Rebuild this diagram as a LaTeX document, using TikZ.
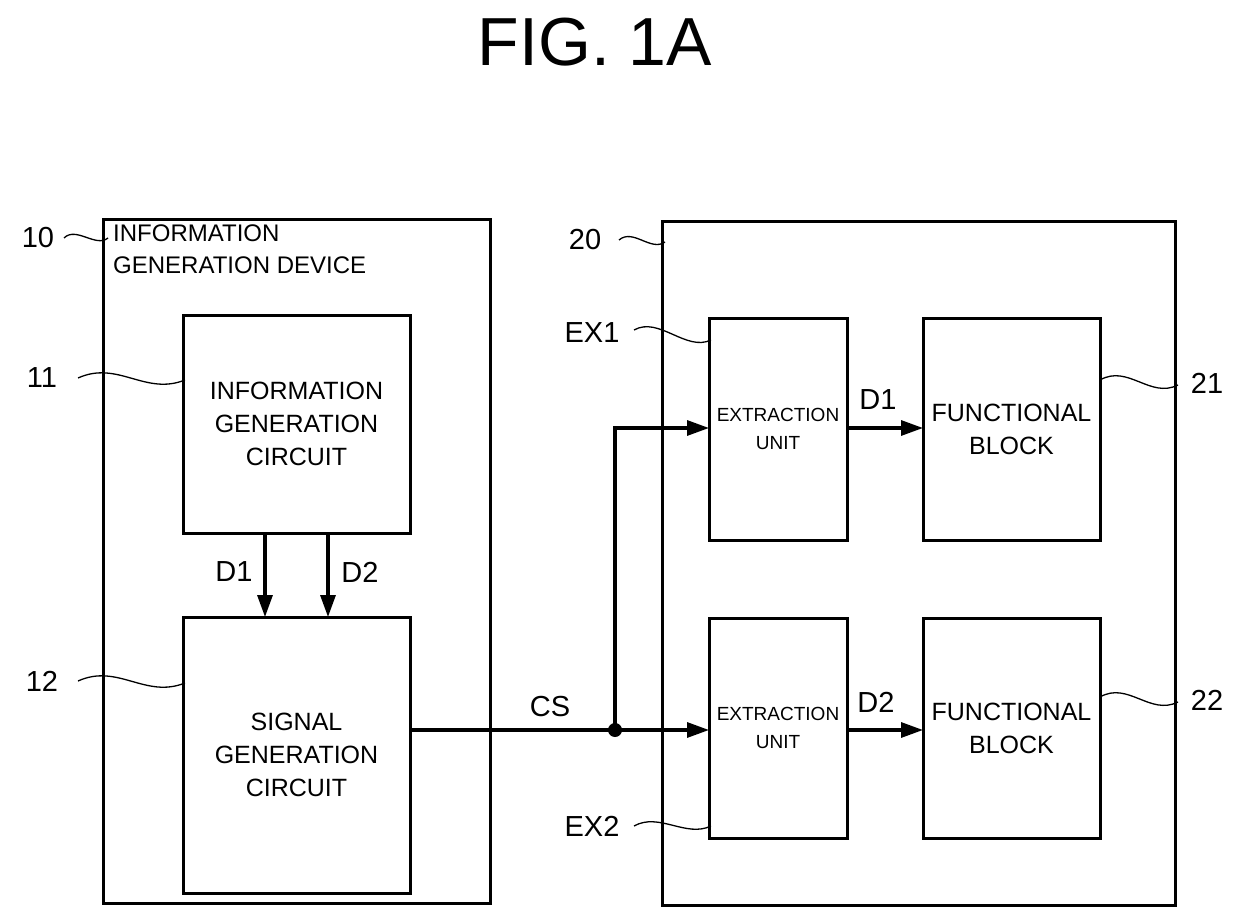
\documentclass[tikz,border=0pt]{standalone}
\usepackage{fontspec}
\setmainfont{Liberation Sans}
\usetikzlibrary{arrows.meta}
\begin{document}
\begin{tikzpicture}[x=1pt,y=-1pt,
  box/.style={draw,line width=3pt,inner sep=0pt},
  txt/.style={align=center,font=\fontsize{25}{33}\selectfont},
  small/.style={align=center,font=\fontsize{19}{28}\selectfont},
  lab/.style={font=\fontsize{29}{32}\selectfont},
  arr/.style={line width=3.2pt,-{Triangle[length=22pt,width=15pt]}},
  sq/.style={line width=1.3pt}]
\useasboundingbox (0,0) rectangle (1240,920);
\node[font=\fontsize{68}{76}\selectfont] (title) at (595,42) {FIG. 1A};
% device 10
\draw[box] (103,220) rectangle (490,903);
\node[anchor=north west,align=left,inner sep=0pt,font=\fontsize{24}{32}\selectfont] (t10) at (113,225) {INFORMATION\\GENERATION DEVICE};
\node[box,minimum width=227pt,minimum height=218pt,txt] (b11) at (296.5,424) {INFORMATION\\GENERATION\\CIRCUIT};
\node[box,minimum width=227pt,minimum height=276pt,txt] (b12) at (296.5,755) {SIGNAL\\GENERATION\\CIRCUIT};
\coordinate (d1a) at (265,533); \coordinate (d1b) at (265,617);
\coordinate (d2a) at (328,533); \coordinate (d2b) at (328,617);
\draw[arr] (d1a) -- (d1b);
\draw[arr] (d2a) -- (d2b);
\node[lab] at (234,572) {D1};
\node[lab] at (360,572) {D2};
% device 20
\draw[box] (662,222) rectangle (1175,905);
\node[box,minimum width=138pt,minimum height=222pt,small] (ex1) at (778,429) {EXTRACTION\\UNIT};
\node[box,minimum width=138pt,minimum height=220pt,small] (ex2) at (778,728) {EXTRACTION\\UNIT};
\node[box,minimum width=177pt,minimum height=222pt,txt] (fb1) at (1011.5,429) {FUNCTIONAL\\BLOCK};
\node[box,minimum width=177pt,minimum height=220pt,txt] (fb2) at (1011.5,728) {FUNCTIONAL\\BLOCK};
% CS
\coordinate (cs0) at (410,730);
\coordinate (dot) at (615,730);
\coordinate (up) at (615,428);
\draw[line width=3.2pt] (cs0) -- (dot);
\draw[arr] (dot) -- (709,730);
\draw[arr] (dot) -- (up) -- (709,428);
\fill (dot) circle (7pt);
\node[lab] at (550,707) {CS};
\draw[arr] (847,428) -- (923,428);
\draw[arr] (847,730) -- (923,730);
\node[lab] at (878,400) {D1};
\node[lab] at (876,702) {D2};
% labels
\node[lab] (l10) at (38,238) {10};
\node[lab] (l11) at (42,378) {11};
\node[lab] (l12) at (42,681) {12};
\node[lab] (l20) at (585,240) {20};
\node[lab] (lex1) at (592,333) {EX1};
\node[lab] (lex2) at (592,826) {EX2};
\node[lab] (l21) at (1207,383) {21};
\node[lab] (l22) at (1207,700) {22};
\draw[sq] (64,238) .. controls +(12,-12) and +(-12,10) .. (108,238);
\draw[sq] (78,378) .. controls +(40,-18) and +(-40,16) .. (185,380);
\draw[sq] (78,681) .. controls +(40,-18) and +(-40,16) .. (185,683);
\draw[sq] (619,240) .. controls +(14,-12) and +(-14,10) .. (665,242);
\draw[sq] (634,330) .. controls +(25,-14) and +(-25,12) .. (711,340);
\draw[sq] (634,826) .. controls +(25,-14) and +(-25,12) .. (711,826);
\draw[sq] (1100,380) .. controls +(28,-16) and +(-28,14) .. (1178,385);
\draw[sq] (1100,697) .. controls +(28,-16) and +(-28,14) .. (1178,702);
\end{tikzpicture}
\end{document}
